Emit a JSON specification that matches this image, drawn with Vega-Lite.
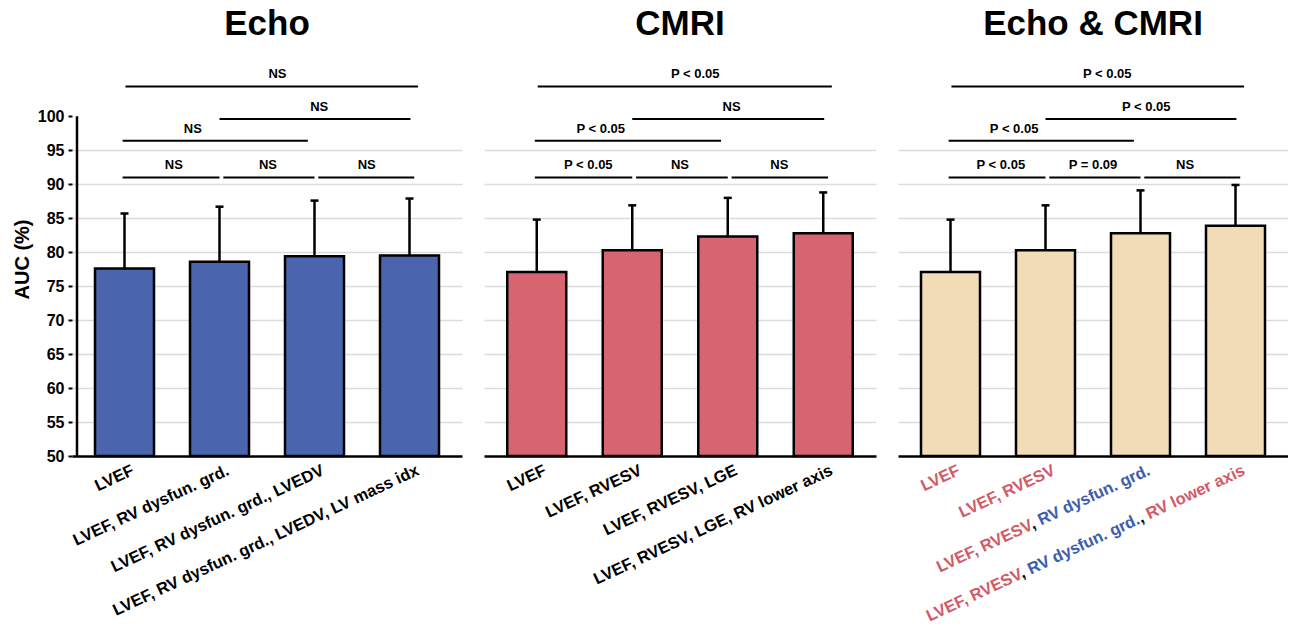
{
  "$schema": "https://vega.github.io/schema/vega-lite/v6.json",
  "padding": {"left": 12, "top": 7, "right": 0, "bottom": 0},
  "background": "white",
  "config": {
    "font": "Liberation Sans",
    "view": {"stroke": null},
    "title": {"fontSize": 35, "fontWeight": "bold", "anchor": "middle", "offset": 20, "color": "black", "font": "Liberation Sans"},
    "concat": {"spacing": 22}
  },
  "datasets": {
    "bars": [
      {"panel": "Echo", "pos": 1, "auc": 77.6, "hi": 85.7},
      {"panel": "Echo", "pos": 2, "auc": 78.6, "hi": 86.7},
      {"panel": "Echo", "pos": 3, "auc": 79.4, "hi": 87.6},
      {"panel": "Echo", "pos": 4, "auc": 79.5, "hi": 87.9},
      {"panel": "CMRI", "pos": 1, "auc": 77.1, "hi": 84.8},
      {"panel": "CMRI", "pos": 2, "auc": 80.3, "hi": 86.9},
      {"panel": "CMRI", "pos": 3, "auc": 82.3, "hi": 88.0},
      {"panel": "CMRI", "pos": 4, "auc": 82.8, "hi": 88.8},
      {"panel": "Both", "pos": 1, "auc": 77.1, "hi": 84.8},
      {"panel": "Both", "pos": 2, "auc": 80.3, "hi": 86.9},
      {"panel": "Both", "pos": 3, "auc": 82.8, "hi": 89.1},
      {"panel": "Both", "pos": 4, "auc": 83.9, "hi": 89.9}
    ],
    "brackets": [
      {"panel": "Echo", "x1": 0.98, "x2": 2.0, "y": 91.0, "tx": 1.52, "text": "NS"},
      {"panel": "Echo", "x1": 2.04, "x2": 3.0, "y": 91.0, "tx": 2.51, "text": "NS"},
      {"panel": "Echo", "x1": 3.04, "x2": 4.05, "y": 91.0, "tx": 3.55, "text": "NS"},
      {"panel": "Echo", "x1": 0.98, "x2": 2.93, "y": 96.4, "tx": 1.72, "text": "NS"},
      {"panel": "Echo", "x1": 2.0, "x2": 4.01, "y": 99.6, "tx": 3.05, "text": "NS"},
      {"panel": "Echo", "x1": 1.01, "x2": 4.09, "y": 104.4, "tx": 2.61, "text": "NS"},
      {"panel": "CMRI", "x1": 0.98, "x2": 2.0, "y": 91.0, "tx": 1.54, "text": "P < 0.05"},
      {"panel": "CMRI", "x1": 2.04, "x2": 3.0, "y": 91.0, "tx": 2.5, "text": "NS"},
      {"panel": "CMRI", "x1": 3.04, "x2": 4.05, "y": 91.0, "tx": 3.54, "text": "NS"},
      {"panel": "CMRI", "x1": 0.98, "x2": 2.93, "y": 96.4, "tx": 1.67, "text": "P < 0.05"},
      {"panel": "CMRI", "x1": 2.0, "x2": 4.01, "y": 99.6, "tx": 3.04, "text": "NS"},
      {"panel": "CMRI", "x1": 1.01, "x2": 4.09, "y": 104.4, "tx": 2.66, "text": "P < 0.05"},
      {"panel": "Both", "x1": 0.98, "x2": 2.0, "y": 91.0, "tx": 1.53, "text": "P < 0.05"},
      {"panel": "Both", "x1": 2.04, "x2": 3.0, "y": 91.0, "tx": 2.5, "text": "P = 0.09"},
      {"panel": "Both", "x1": 3.04, "x2": 4.05, "y": 91.0, "tx": 3.47, "text": "NS"},
      {"panel": "Both", "x1": 0.98, "x2": 2.93, "y": 96.4, "tx": 1.67, "text": "P < 0.05"},
      {"panel": "Both", "x1": 2.0, "x2": 4.01, "y": 99.6, "tx": 3.06, "text": "P < 0.05"},
      {"panel": "Both", "x1": 1.01, "x2": 4.09, "y": 104.4, "tx": 2.65, "text": "P < 0.05"}
    ],
    "labels": [
      {"panel": "Echo", "pos": 1, "text": "LVEF", "source": "none"},
      {"panel": "Echo", "pos": 2, "text": "LVEF, RV dysfun. grd.", "source": "none"},
      {"panel": "Echo", "pos": 3, "text": "LVEF, RV dysfun. grd., LVEDV", "source": "none"},
      {"panel": "Echo", "pos": 4, "text": "LVEF, RV dysfun. grd., LVEDV, LV mass idx", "source": "none"},
      {"panel": "CMRI", "pos": 1, "text": "LVEF", "source": "none"},
      {"panel": "CMRI", "pos": 2, "text": "LVEF, RVESV", "source": "none"},
      {"panel": "CMRI", "pos": 3, "text": "LVEF, RVESV, LGE", "source": "none"},
      {"panel": "CMRI", "pos": 4, "text": "LVEF, RVESV, LGE, RV lower axis", "source": "none"},
      {"panel": "Both", "pos": 1, "text": "LVEF", "source": "CMRI"},
      {"panel": "Both", "pos": 2, "text": "LVEF, RVESV", "source": "CMRI"},
      {"panel": "Both", "pos": 3, "text": "LVEF, RVESV, RV dysfun. grd.", "source": "CMRI"},
      {"panel": "Both", "pos": 3, "text": ", RV dysfun. grd.", "source": "mask"},
      {"panel": "Both", "pos": 3, "text": ", RV dysfun. grd.", "source": "none"},
      {"panel": "Both", "pos": 3, "text": " RV dysfun. grd.", "source": "mask"},
      {"panel": "Both", "pos": 3, "text": " RV dysfun. grd.", "source": "Echo"},
      {"panel": "Both", "pos": 4, "text": "LVEF, RVESV, RV dysfun. grd., RV lower axis", "source": "CMRI"},
      {"panel": "Both", "pos": 4, "text": ", RV dysfun. grd., RV lower axis", "source": "mask"},
      {"panel": "Both", "pos": 4, "text": ", RV dysfun. grd., RV lower axis", "source": "none"},
      {"panel": "Both", "pos": 4, "text": " RV dysfun. grd., RV lower axis", "source": "mask"},
      {"panel": "Both", "pos": 4, "text": " RV dysfun. grd., RV lower axis", "source": "Echo"},
      {"panel": "Both", "pos": 4, "text": ", RV lower axis", "source": "mask"},
      {"panel": "Both", "pos": 4, "text": ", RV lower axis", "source": "none"},
      {"panel": "Both", "pos": 4, "text": " RV lower axis", "source": "mask"},
      {"panel": "Both", "pos": 4, "text": " RV lower axis", "source": "CMRI"}
    ]
  },
  "hconcat": [
    {
      "width": 390, "height": 394,
      "title": {"text": "Echo"},
      "encoding": {
        "x": {"type": "quantitative", "scale": {"domain": [0.5, 4.5], "nice": false, "zero": false},
              "axis": {"domain": true, "domainColor": "black", "domainWidth": 2.5, "ticks": false, "labels": false, "title": null, "grid": false}},
        "y": {"type": "quantitative", "scale": {"domain": [50, 108], "nice": false, "zero": false},
              "axis": {"title": "AUC (%)", "titleFontSize": 20, "titleFontWeight": "bold", "titleColor": "black", "titlePadding": 5,
                       "values": [50, 55, 60, 65, 70, 75, 80, 85, 90, 95, 100], "labelOverlap": false, "domain": false,
                       "ticks": true, "tickSize": 4, "tickWidth": 2, "tickColor": "black",
                       "labelFontSize": 16, "labelFontWeight": "bold", "labelColor": "black", "labelPadding": 4,
                       "grid": true, "gridWidth": 1.5, "gridColor": {"condition": {"test": "datum.value >= 100 || datum.value <= 50", "value": "transparent"}, "value": "#dcdcdc"}}}
      },
      "layer": [
        {
          "data": {"name": "bars"},
          "transform": [{"filter": "datum.panel === 'Echo'"}],
          "mark": {"type": "bar", "size": 59, "fill": "#4a65ae", "stroke": "black", "strokeWidth": 2.5},
          "encoding": {"x": {"field": "pos"}, "y": {"field": "auc"}, "y2": {"datum": 50}}
        },
        {
          "data": {"name": "bars"},
          "transform": [{"filter": "datum.panel === 'Echo'"}],
          "mark": {"type": "rule", "strokeWidth": 2.5, "color": "black"},
          "encoding": {"x": {"field": "pos"}, "y": {"field": "auc"}, "y2": {"field": "hi"}}
        },
        {
          "data": {"name": "bars"},
          "transform": [{"filter": "datum.panel === 'Echo'"}],
          "mark": {"type": "tick", "orient": "horizontal", "size": 8, "thickness": 2.5, "color": "black", "opacity": 1},
          "encoding": {"x": {"field": "pos"}, "y": {"field": "hi"}}
        },
        {
          "data": {"name": "brackets"},
          "transform": [{"filter": "datum.panel === 'Echo'"}],
          "mark": {"type": "rule", "strokeWidth": 2, "color": "black"},
          "encoding": {"x": {"field": "x1"}, "x2": {"field": "x2"}, "y": {"field": "y"}}
        },
        {
          "data": {"name": "brackets"},
          "transform": [{"filter": "datum.panel === 'Echo'"}],
          "mark": {"type": "text", "fontSize": 13, "fontWeight": "bold", "color": "black", "baseline": "middle", "dy": -12},
          "encoding": {"x": {"field": "tx"}, "y": {"field": "y"}, "text": {"field": "text"}}
        },
        {
          "data": {"name": "bars"},
          "transform": [{"filter": "datum.panel === 'Echo' && datum.pos === 1"}],
          "mark": {"type": "rule", "strokeWidth": 2.5, "color": "black"},
          "encoding": {"x": {"datum": 0.5}, "y": {"datum": 50}, "y2": {"datum": 100}}
        },
        {
          "data": {"name": "labels"},
          "transform": [{"filter": "datum.panel === 'Echo'"}],
          "mark": {"type": "text", "align": "right", "baseline": "top", "angle": -25, "fontSize": 16.5, "fontWeight": "bold", "dx": 2, "dy": 8, "strokeWidth": 1.3},
          "encoding": {
            "x": {"field": "pos"},
            "y": {"datum": 50},
            "text": {"field": "text"},
            "color": {"field": "source", "type": "nominal", "scale": {"domain": ["CMRI", "Echo", "none", "mask"], "range": ["#d25b67", "#3d5dae", "#000000", "#ffffff"]}, "legend": null},
            "stroke": {"field": "source", "type": "nominal", "scale": {"domain": ["CMRI", "Echo", "none", "mask"], "range": ["transparent", "transparent", "transparent", "#ffffff"]}, "legend": null}
          }
        }
      ]
    },
    {
      "width": 392, "height": 394,
      "title": {"text": "CMRI"},
      "encoding": {
        "x": {"type": "quantitative", "scale": {"domain": [0.5, 4.5], "nice": false, "zero": false},
              "axis": {"domain": true, "domainColor": "black", "domainWidth": 2.5, "ticks": false, "labels": false, "title": null, "grid": false}},
        "y": {"type": "quantitative", "scale": {"domain": [50, 108], "nice": false, "zero": false},
              "axis": {"title": null, "values": [50, 55, 60, 65, 70, 75, 80, 85, 90, 95, 100], "domain": false, "ticks": false, "labels": false, "minExtent": 0,
                       "grid": true, "gridWidth": 1.5, "gridColor": {"condition": {"test": "datum.value >= 100 || datum.value <= 50", "value": "transparent"}, "value": "#dcdcdc"}}}
      },
      "layer": [
        {
          "data": {"name": "bars"},
          "transform": [{"filter": "datum.panel === 'CMRI'"}],
          "mark": {"type": "bar", "size": 59, "fill": "#d66571", "stroke": "black", "strokeWidth": 2.5},
          "encoding": {"x": {"field": "pos"}, "y": {"field": "auc"}, "y2": {"datum": 50}}
        },
        {
          "data": {"name": "bars"},
          "transform": [{"filter": "datum.panel === 'CMRI'"}],
          "mark": {"type": "rule", "strokeWidth": 2.5, "color": "black"},
          "encoding": {"x": {"field": "pos"}, "y": {"field": "auc"}, "y2": {"field": "hi"}}
        },
        {
          "data": {"name": "bars"},
          "transform": [{"filter": "datum.panel === 'CMRI'"}],
          "mark": {"type": "tick", "orient": "horizontal", "size": 8, "thickness": 2.5, "color": "black", "opacity": 1},
          "encoding": {"x": {"field": "pos"}, "y": {"field": "hi"}}
        },
        {
          "data": {"name": "brackets"},
          "transform": [{"filter": "datum.panel === 'CMRI'"}],
          "mark": {"type": "rule", "strokeWidth": 2, "color": "black"},
          "encoding": {"x": {"field": "x1"}, "x2": {"field": "x2"}, "y": {"field": "y"}}
        },
        {
          "data": {"name": "brackets"},
          "transform": [{"filter": "datum.panel === 'CMRI'"}],
          "mark": {"type": "text", "fontSize": 13, "fontWeight": "bold", "color": "black", "baseline": "middle", "dy": -12},
          "encoding": {"x": {"field": "tx"}, "y": {"field": "y"}, "text": {"field": "text"}}
        },
        {
          "data": {"name": "labels"},
          "transform": [{"filter": "datum.panel === 'CMRI'"}],
          "mark": {"type": "text", "align": "right", "baseline": "top", "angle": -25, "fontSize": 16.5, "fontWeight": "bold", "dx": 2, "dy": 8, "strokeWidth": 1.3},
          "encoding": {
            "x": {"field": "pos"},
            "y": {"datum": 50},
            "text": {"field": "text"},
            "color": {"field": "source", "type": "nominal", "scale": {"domain": ["CMRI", "Echo", "none", "mask"], "range": ["#d25b67", "#3d5dae", "#000000", "#ffffff"]}, "legend": null},
            "stroke": {"field": "source", "type": "nominal", "scale": {"domain": ["CMRI", "Echo", "none", "mask"], "range": ["transparent", "transparent", "transparent", "#ffffff"]}, "legend": null}
          }
        }
      ]
    },
    {
      "width": 390, "height": 394,
      "title": {"text": "Echo & CMRI"},
      "encoding": {
        "x": {"type": "quantitative", "scale": {"domain": [0.5, 4.5], "nice": false, "zero": false},
              "axis": {"domain": true, "domainColor": "black", "domainWidth": 2.5, "ticks": false, "labels": false, "title": null, "grid": false}},
        "y": {"type": "quantitative", "scale": {"domain": [50, 108], "nice": false, "zero": false},
              "axis": {"title": null, "values": [50, 55, 60, 65, 70, 75, 80, 85, 90, 95, 100], "domain": false, "ticks": false, "labels": false, "minExtent": 0,
                       "grid": true, "gridWidth": 1.5, "gridColor": {"condition": {"test": "datum.value >= 100 || datum.value <= 50", "value": "transparent"}, "value": "#dcdcdc"}}}
      },
      "layer": [
        {
          "data": {"name": "bars"},
          "transform": [{"filter": "datum.panel === 'Both'"}],
          "mark": {"type": "bar", "size": 59, "fill": "#f2dcb7", "stroke": "black", "strokeWidth": 2.5},
          "encoding": {"x": {"field": "pos"}, "y": {"field": "auc"}, "y2": {"datum": 50}}
        },
        {
          "data": {"name": "bars"},
          "transform": [{"filter": "datum.panel === 'Both'"}],
          "mark": {"type": "rule", "strokeWidth": 2.5, "color": "black"},
          "encoding": {"x": {"field": "pos"}, "y": {"field": "auc"}, "y2": {"field": "hi"}}
        },
        {
          "data": {"name": "bars"},
          "transform": [{"filter": "datum.panel === 'Both'"}],
          "mark": {"type": "tick", "orient": "horizontal", "size": 8, "thickness": 2.5, "color": "black", "opacity": 1},
          "encoding": {"x": {"field": "pos"}, "y": {"field": "hi"}}
        },
        {
          "data": {"name": "brackets"},
          "transform": [{"filter": "datum.panel === 'Both'"}],
          "mark": {"type": "rule", "strokeWidth": 2, "color": "black"},
          "encoding": {"x": {"field": "x1"}, "x2": {"field": "x2"}, "y": {"field": "y"}}
        },
        {
          "data": {"name": "brackets"},
          "transform": [{"filter": "datum.panel === 'Both'"}],
          "mark": {"type": "text", "fontSize": 13, "fontWeight": "bold", "color": "black", "baseline": "middle", "dy": -12},
          "encoding": {"x": {"field": "tx"}, "y": {"field": "y"}, "text": {"field": "text"}}
        },
        {
          "data": {"name": "labels"},
          "transform": [{"filter": "datum.panel === 'Both'"}],
          "mark": {"type": "text", "align": "right", "baseline": "top", "angle": -25, "fontSize": 16.5, "fontWeight": "bold", "dx": 2, "dy": 8, "strokeWidth": 1.3},
          "encoding": {
            "x": {"field": "pos"},
            "y": {"datum": 50},
            "text": {"field": "text"},
            "color": {"field": "source", "type": "nominal", "scale": {"domain": ["CMRI", "Echo", "none", "mask"], "range": ["#d25b67", "#3d5dae", "#000000", "#ffffff"]}, "legend": null},
            "stroke": {"field": "source", "type": "nominal", "scale": {"domain": ["CMRI", "Echo", "none", "mask"], "range": ["transparent", "transparent", "transparent", "#ffffff"]}, "legend": null}
          }
        }
      ]
    }
  ]
}
